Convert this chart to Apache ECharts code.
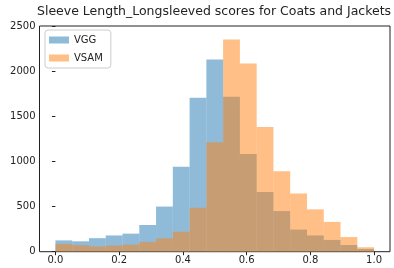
<!DOCTYPE html>
<html>
<head>
<meta charset="utf-8">
<script src="https://cdn.jsdelivr.net/npm/echarts@6/dist/echarts.min.js"></script>
<style>
  html, body { margin: 0; padding: 0; background: #fff; }
  #chart { width: 394px; height: 268px; }
</style>
</head>
<body>
<div id="chart"></div>
<script>
// histogram counts, 19 equal bins over [0, 1]
const binCount = 19;
const vggCounts = [125, 115, 150, 180, 200, 296, 500, 941, 1705, 2130, 1716, 1081, 660, 450, 245, 180, 130, 74, 30];
const vsamCounts = [85, 72, 58, 68, 78, 108, 148, 221, 487, 1213, 2350, 2086, 1380, 890, 646, 469, 330, 162, 49];
const xTicks = [0, 0.2, 0.4, 0.6, 0.8, 1.0];
const seriesNames = ["VGG", "VSAM"];

const font = "DejaVu Sans";
const blue = "rgba(31,119,180,0.5)";
const orange = "rgba(255,127,14,0.5)";

function toBins(counts) {
  return counts.map((c, i) => [i / binCount, (i + 1) / binCount, c]);
}

function histSeries(name, counts, color) {
  return {
    name: name,
    type: "custom",
    itemStyle: { color: color },
    renderItem: function (params, api) {
      const top = api.coord([api.value(0), api.value(2)]);
      const bottom = api.coord([api.value(1), 0]);
      return {
        type: "rect",
        shape: {
          x: top[0],
          y: top[1],
          width: bottom[0] - top[0],
          height: bottom[1] - top[1]
        },
        style: { fill: color }
      };
    },
    encode: { x: [0, 1], y: 2 },
    data: toBins(counts)
  };
}

let myChart = echarts.init(document.getElementById("chart"));
let option = {
  animation: false,
  title: {
    text: "Sleeve Length_Longsleeved scores for Coats and Jackets",
    left: 37,
    top: 5,
    padding: 0,
    textStyle: { fontFamily: font, fontSize: 12.5, fontWeight: "normal", color: "#222" }
  },
  legend: {
    orient: "vertical",
    left: 45,
    top: 30,
    padding: [5, 8, 5, 4],
    itemWidth: 20,
    itemHeight: 7,
    itemGap: 8,
    borderColor: "#ccc",
    borderWidth: 1,
    borderRadius: 3,
    icon: "rect",
    textStyle: { fontFamily: font, fontSize: 10, color: "#222" },
    data: seriesNames
  },
  grid: {
    left: 39.5,
    right: 4,
    top: 26,
    bottom: 16.3,
    show: true,
    borderColor: "#222",
    borderWidth: 1
  },
  xAxis: {
    type: "value",
    min: -0.05,
    max: 1.05,
    axisLine: { show: false },
    splitLine: { show: false },
    axisTick: { show: true, length: 3.5, customValues: xTicks, lineStyle: { color: "#222" } },
    axisLabel: {
      customValues: xTicks,
      fontFamily: font,
      fontSize: 10,
      color: "#222",
      margin: 4,
      formatter: v => v.toFixed(1)
    }
  },
  yAxis: {
    type: "value",
    min: 0,
    max: 2500,
    interval: 500,
    axisLine: { show: false },
    splitLine: { show: false },
    axisTick: { show: true, length: 3.5, lineStyle: { color: "#222" } },
    axisLabel: { fontFamily: font, fontSize: 10, color: "#222", margin: 4, formatter: v => String(v) }
  },
  series: [
    histSeries(seriesNames[0], vggCounts, blue),
    histSeries(seriesNames[1], vsamCounts, orange)
  ]
};
myChart.setOption(option);
window.addEventListener("resize", () => {
  myChart.resize();
});
</script>
</body>
</html>
